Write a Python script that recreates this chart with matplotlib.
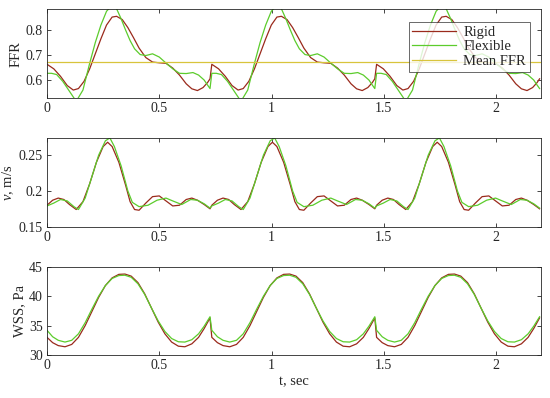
import numpy as np
import matplotlib
matplotlib.use("Agg")
import matplotlib.pyplot as plt

plt.rcParams['font.family'] = ['Liberation Serif', 'DejaVu Serif']
plt.rcParams['mathtext.fontset'] = 'custom'
plt.rcParams['mathtext.rm'] = 'Liberation Serif'
plt.rcParams['mathtext.it'] = 'Liberation Serif:italic'

# ---- data: one cardiac cycle (period ~0.734 s) ----
period = 0.734
n_cycles = 3

ffr_tau_rigid = [0.0, 0.03, 0.06, 0.09, 0.117, 0.14, 0.165, 0.19, 0.215, 0.24, 0.265, 0.29, 0.31,
                 0.335, 0.36, 0.385, 0.41, 0.44, 0.47, 0.5, 0.53, 0.56, 0.59, 0.62, 0.645, 0.67,
                 0.695, 0.715, 0.726]
ffr_rigid = [0.663, 0.645, 0.615, 0.578, 0.560, 0.566, 0.595, 0.645, 0.705, 0.765, 0.82, 0.852, 0.855,
             0.842, 0.81, 0.77, 0.728, 0.69, 0.672, 0.669, 0.667, 0.648, 0.62, 0.585, 0.565, 0.558,
             0.57, 0.59, 0.605]

ffr_tau_flex = [0.0, 0.02, 0.043, 0.07, 0.1, 0.13, 0.16, 0.19, 0.215, 0.24, 0.265, 0.29, 0.31,
                0.33, 0.35, 0.37, 0.39, 0.415, 0.44, 0.47, 0.5, 0.53, 0.56, 0.59, 0.62, 0.65,
                0.675, 0.7, 0.715, 0.726]
ffr_flex = [0.627, 0.627, 0.622, 0.595, 0.555, 0.515, 0.56, 0.667, 0.75, 0.82, 0.875, 0.9, 0.885,
            0.845, 0.8, 0.758, 0.725, 0.702, 0.698, 0.705, 0.692, 0.668, 0.645, 0.627, 0.626, 0.63,
            0.62, 0.6, 0.58, 0.566]

mean_ffr = 0.672

vel_tau_rigid = [0.0, 0.025, 0.05, 0.075, 0.1, 0.13, 0.16, 0.19, 0.22, 0.25, 0.27, 0.29, 0.32,
                 0.35, 0.37, 0.39, 0.41, 0.44, 0.47, 0.5, 0.53, 0.56, 0.59, 0.62, 0.645, 0.67,
                 0.7, 0.726]
vel_rigid = [0.180, 0.187, 0.190, 0.188, 0.181, 0.174, 0.185, 0.210, 0.240, 0.262, 0.268, 0.262, 0.240,
             0.208, 0.185, 0.174, 0.173, 0.183, 0.192, 0.193, 0.186, 0.179, 0.180, 0.188, 0.190, 0.187,
             0.181, 0.175]

vel_tau_flex = [0.0, 0.03, 0.06, 0.09, 0.12, 0.14, 0.17, 0.2, 0.23, 0.26, 0.28, 0.3, 0.33,
                0.36, 0.38, 0.41, 0.45, 0.49, 0.53, 0.56, 0.6, 0.64, 0.67, 0.7, 0.726]
vel_flex = [0.179, 0.183, 0.188, 0.186, 0.178, 0.174, 0.190, 0.220, 0.250, 0.270, 0.274, 0.262, 0.235,
            0.200, 0.184, 0.178, 0.180, 0.187, 0.190, 0.186, 0.181, 0.188, 0.187, 0.182, 0.176]

wss_tau = [0.0, 0.025, 0.05, 0.08, 0.11, 0.14, 0.17, 0.2, 0.23, 0.26, 0.29, 0.32, 0.347,
           0.375, 0.405, 0.435, 0.465, 0.495, 0.525, 0.555, 0.585, 0.614, 0.645, 0.675, 0.7, 0.726]
wss_rigid = [33.0, 32.1, 31.6, 31.4, 31.8, 33.0, 35.0, 37.4, 39.8, 41.8, 43.1, 43.7, 43.75,
             43.4, 42.3, 40.4, 38.0, 35.6, 33.6, 32.2, 31.5, 31.4, 31.9, 33.0, 34.5, 36.3]
wss_flex = [34.2, 33.1, 32.5, 32.2, 32.5, 33.6, 35.5, 37.8, 40.0, 41.8, 43.0, 43.5, 43.55,
            43.2, 42.1, 40.3, 38.0, 35.8, 34.0, 32.8, 32.25, 32.2, 32.6, 33.6, 34.9, 36.5]

x_ticks = [0, 0.5, 1, 1.5, 2]
x_tick_labels = ['0', '0.5', '1', '1.5', '2']


def repeat_cycle(tau, vals):
    t = np.concatenate([np.asarray(tau) + k * period for k in range(n_cycles)])
    v = np.tile(np.asarray(vals, dtype=float), n_cycles)
    return t, v


c_rigid = '#9a2a1c'
c_flex = '#5ccc2c'
c_mean = '#d8c43c'
lw = 0.9

fig = plt.figure(figsize=(5.5, 3.98), dpi=100)
left, width = 0.0855, 0.898
ax1 = fig.add_axes([left, 0.753, width, 0.2236])
ax2 = fig.add_axes([left, 0.4304, width, 0.2221])
ax3 = fig.add_axes([left, 0.108, width, 0.2219])

t, v = repeat_cycle(ffr_tau_rigid, ffr_rigid)
ax1.plot(t, v, color=c_rigid, lw=lw, label='Rigid')
t, v = repeat_cycle(ffr_tau_flex, ffr_flex)
ax1.plot(t, v, color=c_flex, lw=lw, label='Flexible')
ax1.axhline(mean_ffr, color=c_mean, lw=lw, label='Mean FFR')
ax1.set_ylim(0.527, 0.883)
ax1.set_yticks([0.6, 0.7, 0.8])
ax1.set_ylabel('FFR', labelpad=2)
leg = ax1.legend(loc='upper right', bbox_to_anchor=(0.977, 0.86), fontsize=10.5, frameon=True,
                 fancybox=False, edgecolor='#262626', borderpad=0.25, handlelength=3.0,
                 handletextpad=0.5, labelspacing=0.1, borderaxespad=0.0)
leg.get_frame().set_linewidth(0.6)
for txt in leg.get_texts():
    txt.set_color('#262626')

t, v = repeat_cycle(vel_tau_rigid, vel_rigid)
ax2.plot(t, v, color=c_rigid, lw=lw)
t, v = repeat_cycle(vel_tau_flex, vel_flex)
ax2.plot(t, v, color=c_flex, lw=lw)
ax2.set_ylim(0.15, 0.2735)
ax2.set_yticks([0.15, 0.2, 0.25])
ax2.set_yticklabels(['0.15', '0.2', '0.25'])
ax2.set_ylabel('$v$, m/s', labelpad=2)

t, v = repeat_cycle(wss_tau, wss_rigid)
ax3.plot(t, v, color=c_rigid, lw=lw)
t, v = repeat_cycle(wss_tau, wss_flex)
ax3.plot(t, v, color=c_flex, lw=lw)
ax3.set_ylim(30, 45)
ax3.set_yticks([30, 35, 40, 45])
ax3.set_ylabel('WSS, Pa', labelpad=2)
ax3.set_xlabel('t, sec', labelpad=2)

for ax in (ax1, ax2, ax3):
    ax.set_xlim(0, 2.2)
    ax.set_xticks(x_ticks)
    ax.set_xticklabels(x_tick_labels)
    ax.tick_params(direction='in', top=True, right=True, labelsize=10, length=3,
                   width=0.6, colors='#262626', pad=3)
    for s in ax.spines.values():
        s.set_linewidth(0.6)
        s.set_color('#262626')
    ax.yaxis.label.set_size(10.5)
    ax.yaxis.label.set_color('#262626')
    ax.xaxis.label.set_size(10.5)
    ax.xaxis.label.set_color('#262626')

fig.align_ylabels([ax1, ax2, ax3])
fig.savefig('out.png', dpi=100)
